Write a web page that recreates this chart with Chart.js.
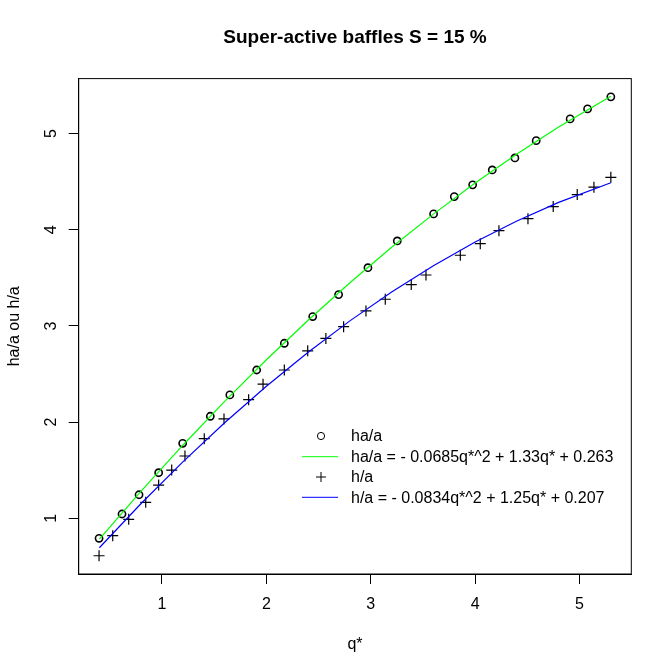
<!DOCTYPE html>
<html>
<head>
<meta charset="utf-8">
<script src="https://cdn.jsdelivr.net/npm/chart.js@4/dist/chart.umd.min.js"></script>
<style>
  html, body { margin: 0; padding: 0; background: #fff; }
  #wrap { width: 672px; height: 672px; position: relative; }
</style>
</head>
<body>
<div id="wrap"><canvas id="chart"></canvas></div>
<script>
// ha/a measured points (circles)
const haX = [0.397, 0.617, 0.78, 0.968, 1.198, 1.463, 1.65, 1.907, 2.172, 2.444, 2.692,
  2.973, 3.254, 3.602, 3.8, 3.976, 4.164, 4.381, 4.585, 4.91, 5.077, 5.30];
const haY = [0.792, 1.045, 1.245, 1.474, 1.78, 2.061, 2.283, 2.542, 2.82, 3.098, 3.326,
  3.606, 3.884, 4.165, 4.345, 4.467, 4.622, 4.747, 4.927, 5.153, 5.257, 5.382];

// h/a measured points (crosses)
const hX = [0.397, 0.528, 0.681, 0.844, 0.968, 1.093, 1.22, 1.405, 1.594, 1.83, 1.968,
  2.172, 2.396, 2.57, 2.74, 2.954, 3.139, 3.388, 3.529, 3.858, 4.049, 4.228, 4.506,
  4.748, 4.978, 5.138, 5.30];
const hY = [0.611, 0.819, 0.99, 1.166, 1.346, 1.502, 1.648, 1.828, 2.033, 2.234, 2.395,
  2.542, 2.742, 2.87, 2.993, 3.156, 3.278, 3.43, 3.53, 3.735, 3.856, 3.991, 4.116,
  4.241, 4.366, 4.443, 4.546];

// fitted curves
const fitX = [0.4, 0.8, 1.2, 1.6, 2.0, 2.4, 2.8, 3.2, 3.6, 4.0, 4.4, 4.8, 5.3];
const fitHaY = [0.784, 1.283, 1.760, 2.216, 2.649, 3.060, 3.450, 3.818, 4.163, 4.487, 4.789, 5.069, 5.388];
const fitHY = [0.694, 1.154, 1.587, 1.994, 2.373, 2.727, 3.053, 3.353, 3.626, 3.873, 4.092, 4.285, 4.489];

const xTicks = [1, 2, 3, 4, 5];
const yTicks = [1, 2, 3, 4, 5];

const FONT = "'Liberation Sans', Arial, Helvetica, sans-serif";
const pts = (xs, ys) => xs.map((x, i) => ({ x: x, y: ys[i] }));

// box around the plot region + legend inside it, like base R
const boxAndLegend = {
  id: "boxAndLegend",
  afterDatasetsDraw(chart) {
    const { ctx, chartArea: a } = chart;
    ctx.save();
    ctx.strokeStyle = "#000";
    ctx.lineWidth = 1;
    ctx.strokeRect(a.left, a.top, a.right - a.left, a.bottom - a.top);

    const rows = [436, 456.7, 477, 497.3];
    ctx.font = "16px " + FONT;
    ctx.textBaseline = "middle";
    ctx.textAlign = "left";
    chart.data.datasets.forEach((ds, i) => {
      const y = rows[i];
      if (ds.type === "line") {
        ctx.strokeStyle = ds.borderColor;
        ctx.lineWidth = 1;
        ctx.beginPath();
        ctx.moveTo(302, y);
        ctx.lineTo(338, y);
        ctx.stroke();
      } else if (ds.pointStyle === "circle") {
        ctx.strokeStyle = "#000";
        ctx.lineWidth = 1;
        ctx.beginPath();
        ctx.arc(321, y, 3.6, 0, Math.PI * 2);
        ctx.stroke();
      } else {
        ctx.strokeStyle = "#000";
        ctx.lineWidth = 1;
        ctx.beginPath();
        ctx.moveTo(316, y); ctx.lineTo(326, y);
        ctx.moveTo(321, y - 5); ctx.lineTo(321, y + 5);
        ctx.stroke();
      }
      ctx.fillStyle = "#000";
      ctx.fillText(ds.label, 351, y + 1);
    });
    ctx.restore();
  },
};

new Chart(document.getElementById("chart"), {
  type: "scatter",
  data: {
    datasets: [
      {
        label: "ha/a",
        data: pts(haX, haY),
        pointStyle: "circle",
        pointRadius: 3.6,
        pointHoverRadius: 3.6,
        borderColor: "#000",
        backgroundColor: "rgba(0,0,0,0)",
        borderWidth: 1.6,
        order: 2,
      },
      {
        type: "line",
        label: "ha/a = - 0.0685q*^2 + 1.33q* + 0.263",
        data: pts(fitX, fitHaY),
        borderColor: "#00ff00",
        borderWidth: 1.2,
        pointRadius: 0,
        tension: 0,
        fill: false,
        order: 1,
      },
      {
        label: "h/a",
        data: pts(hX, hY),
        pointStyle: "cross",
        pointRadius: 5.5,
        pointHoverRadius: 5.5,
        borderColor: "#000",
        borderWidth: 1.2,
        order: 2,
      },
      {
        type: "line",
        label: "h/a = - 0.0834q*^2 + 1.25q* + 0.207",
        data: pts(fitX, fitHY),
        borderColor: "#0000ff",
        borderWidth: 1.2,
        pointRadius: 0,
        tension: 0,
        fill: false,
        order: 1,
      },
    ],
  },
  options: {
    responsive: true,
    maintainAspectRatio: false,
    animation: false,
    devicePixelRatio: 1,
    layout: { padding: { left: 0, right: 40.7, top: 0, bottom: 0 } },
    plugins: {
      legend: { display: false },
      tooltip: { enabled: false },
      title: {
        display: true,
        text: "Super-active baffles S = 15 %",
        color: "#000",
        fullSize: false,
        font: { family: FONT, size: 19, weight: "bold", lineHeight: 1.2 },
        padding: { top: 26.5, bottom: 29.3 },
      },
    },
    scales: {
      x: {
        type: "linear",
        min: 0.202,
        max: 5.496,
        afterBuildTicks: (s) => { s.ticks = xTicks.map((v) => ({ value: v })); },
        afterFit: (s) => { s.height = 98; },
        grid: { drawOnChartArea: false, drawTicks: true, tickLength: 10, color: "#000" },
        border: { display: true, color: "#000" },
        ticks: {
          color: "#000", autoSkip: false, maxRotation: 0, padding: 11,
          font: { family: FONT, size: 16 },
        },
        title: {
          display: true, text: "q*", color: "#000",
          font: { family: FONT, size: 16, lineHeight: 1.2 },
          padding: { top: 0, bottom: 18 },
        },
      },
      y: {
        type: "linear",
        min: 0.421,
        max: 5.572,
        afterBuildTicks: (s) => { s.ticks = yTicks.map((v) => ({ value: v })); },
        afterFit: (s) => { s.width = 78.7; },
        grid: { drawOnChartArea: false, drawTicks: true, tickLength: 10, color: "#000" },
        border: { display: true, color: "#000" },
        ticks: {
          color: "#000", autoSkip: false, minRotation: 90, maxRotation: 90,
          crossAlign: "center", padding: 13,
          font: { family: FONT, size: 16 },
        },
        title: {
          display: true, text: "ha/a ou h/a", color: "#000",
          font: { family: FONT, size: 16, lineHeight: 1.2 },
          padding: { top: 5, bottom: 0 },
        },
      },
    },
  },
  plugins: [boxAndLegend],
});
</script>
</body>
</html>
